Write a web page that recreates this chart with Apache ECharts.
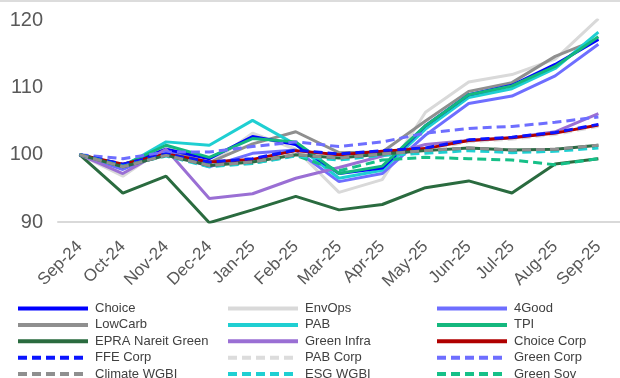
<!DOCTYPE html>
<html>
<head>
<meta charset="utf-8">
<script src="https://cdn.jsdelivr.net/npm/echarts@6/dist/echarts.min.js"></script>
<style>
  html, body { margin: 0; padding: 0; background: #ffffff; }
  #chart { position: absolute; left: 0; top: 0; width: 620px; height: 378px; }
  #topRule { position: absolute; left: 0; top: 0; width: 620px; height: 2px; background: #dcdcdc; }
</style>
</head>
<body>
<div id="chart"></div>
<div id="topRule"></div>
<script>
// Month labels along the x axis
const months = ['Sep-24', 'Oct-24', 'Nov-24', 'Dec-24', 'Jan-25', 'Feb-25', 'Mar-25',
                'Apr-25', 'May-25', 'Jun-25', 'Jul-25', 'Aug-25', 'Sep-25'];

// Y axis tick values
const yTicks = [90, 100, 110, 120];

// Index levels (rebased to 100 at Sep-24)
const choice      = [100, 98.4, 100.8, 99.4, 102.7, 101.5, 97.2, 98.0, 104.3, 108.9, 110.3, 113.4, 117.1];
const envOps      = [100, 96.8, 101.2, 98.6, 103.2, 100.8, 94.4, 96.3, 106.3, 110.8, 111.9, 114.2, 120.2];
const fourGood    = [100, 97.8, 100.5, 98.2, 100.2, 100.7, 96.0, 97.2, 102.9, 107.6, 108.7, 111.7, 116.4];
const lowCarb     = [100, 98.0, 100.6, 98.8, 101.6, 103.4, 100.3, 100.4, 105.0, 109.4, 110.7, 114.6, 117.2];
const pab         = [100, 98.2, 101.9, 101.4, 105.1, 101.5, 96.5, 97.7, 103.8, 108.5, 109.8, 112.8, 118.2];
const tpi         = [100, 98.4, 101.4, 99.6, 102.4, 101.9, 97.2, 98.3, 104.3, 108.9, 110.2, 113.1, 117.5];
const epraGreen   = [100, 94.3, 96.8, 89.9, 91.8, 93.8, 91.8, 92.6, 95.1, 96.1, 94.3, 98.6, 99.4];
const greenInfra  = [100, 97.2, 100.8, 93.5, 94.2, 96.5, 98.1, 99.8, 101.5, 102.1, 102.5, 103.4, 106.1];
const choiceCorp  = [100, 98.6, 100.1, 98.9, 99.3, 100.6, 100.0, 100.5, 100.9, 102.1, 102.5, 103.2, 104.4];
const ffeCorp     = [100, 98.6, 100.1, 98.9, 99.4, 100.7, 100.1, 100.6, 101.0, 102.2, 102.6, 103.3, 104.5];
const pabCorp     = [100, 98.3, 100.0, 98.7, 99.2, 100.4, 99.8, 100.3, 100.7, 101.9, 102.3, 103.0, 104.2];
const greenCorp   = [100, 99.4, 100.4, 100.4, 101.2, 101.9, 101.2, 101.9, 103.2, 103.9, 104.2, 104.8, 105.6];
const climateWgbi = [100, 98.2, 99.9, 98.4, 98.9, 100.0, 99.5, 100.1, 100.6, 101.0, 100.7, 100.8, 101.4];
const esgWgbi     = [100, 98.3, 99.8, 98.2, 98.7, 99.8, 99.2, 99.9, 100.2, 100.6, 100.3, 100.5, 101.0];
const greenSov    = [100, 98.5, 100.0, 98.5, 98.7, 99.9, 97.6, 99.2, 99.6, 99.4, 99.2, 98.5, 99.4];

const DASH = [9, 5];

function line(name, data, color, dashed, z, width) {
  return {
    name: name,
    type: 'line',
    data: data,
    symbol: 'none',
    z: z,
    animation: false,
    lineStyle: { color: color, width: width || 3, type: dashed ? DASH : 'solid', cap: 'butt' },
    itemStyle: { color: color }
  };
}

const series = [
  line('EnvOps', envOps, '#d9d9d9', false, 2),
  line('LowCarb', lowCarb, '#8f8f8f', false, 3),
  line('4Good', fourGood, '#6e6eff', false, 3),
  line('PAB', pab, '#1fcfd2', false, 3),
  line('TPI', tpi, '#14b87e', false, 4),
  line('Choice', choice, '#0000ff', false, 3),
  line('EPRA Nareit Green', epraGreen, '#2a6b3f', false, 3),
  line('Green Infra', greenInfra, '#9a6fd4', false, 3),
  line('PAB Corp', pabCorp, '#dcdcdc', true, 3),
  line('Choice Corp', choiceCorp, '#b00000', false, 4, 3),
  line('FFE Corp', ffeCorp, '#0a14ff', true, 5, 3),
  line('Green Corp', greenCorp, '#6e6eff', true, 4),
  line('Green Sov', greenSov, '#16c088', true, 4),
  line('ESG WGBI', esgWgbi, '#1fcfd2', true, 5),
  // solid underlay of the Climate WGBI path, visible through its dash gaps
  Object.assign(line('Climate WGBI base', climateWgbi, '#2b6a45', false, 5), { silent: true }),
  line('Climate WGBI', climateWgbi, '#8f8f8f', true, 6)
];

const legendBase = {
  orient: 'vertical',
  top: 302,
  height: 120,
  padding: 0,
  itemWidth: 70,
  itemHeight: 12,
  itemGap: 3.4,
  selectedMode: false,
  itemStyle: { opacity: 0 },
  lineStyle: { width: 4 },
  textStyle: { fontFamily: 'Liberation Sans, Arial, sans-serif', fontSize: 13, color: '#404040', padding: [0, 0, 0, 2] }
};

const chart = echarts.init(document.getElementById('chart'), null, { renderer: 'canvas' });
chart.setOption({
  backgroundColor: '#ffffff',
  animation: false,
  grid: { left: 58, right: -6, top: 20, bottom: 156, containLabel: false },
  legend: [
    Object.assign({}, legendBase, { left: 16, data: ['Choice', 'LowCarb', 'EPRA Nareit Green', 'FFE Corp', 'Climate WGBI'] }),
    Object.assign({}, legendBase, { left: 226, data: ['EnvOps', 'PAB', 'Green Infra', 'PAB Corp', 'ESG WGBI'] }),
    Object.assign({}, legendBase, { left: 435, data: ['4Good', 'TPI', 'Choice Corp', 'Green Corp', 'Green Sov'] })
  ],
  xAxis: {
    type: 'category',
    data: months,
    boundaryGap: true,
    axisLine: { lineStyle: { color: '#d9d9d9', width: 2 } },
    axisTick: { show: false },
    axisLabel: {
      interval: 0,
      rotate: 45,
      margin: 22,
      fontFamily: 'Liberation Sans, Arial, sans-serif',
      fontSize: 17,
      color: '#595959'
    }
  },
  yAxis: {
    type: 'value',
    min: yTicks[0],
    max: yTicks[yTicks.length - 1],
    interval: 10,
    axisLine: { show: false },
    axisTick: { show: false },
    splitLine: { show: false },
    axisLabel: {
      margin: 15,
      fontFamily: 'Liberation Sans, Arial, sans-serif',
      fontSize: 20,
      color: '#595959'
    }
  },
  series: series
});
</script>
</body>
</html>
